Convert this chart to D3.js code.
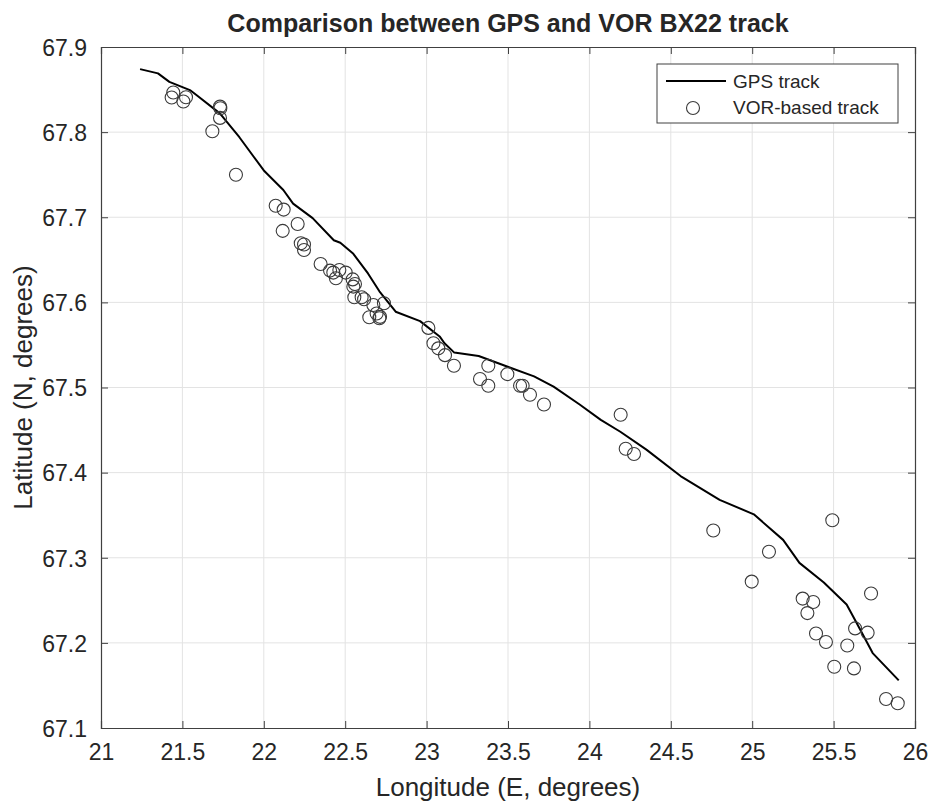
<!DOCTYPE html>
<html>
<head>
<meta charset="utf-8">
<script src="https://cdn.jsdelivr.net/npm/d3@7"></script>
<style>
  body { margin: 0; background: white; }
  text { font-family: 'Liberation Sans', Arial, Helvetica, sans-serif; fill: #262626; }
</style>
</head>
<body>
<svg id="chart" width="930" height="805"></svg>
<script>
//GPS track, longitude and latitude.
let gpsLon = [21.24, 21.35, 21.42, 21.55, 21.59, 21.73, 21.85, 22.00, 22.12, 22.18, 22.30, 22.43, 22.47,
  22.55, 22.64, 22.71, 22.81, 22.96, 23.08, 23.11, 23.17, 23.32, 23.49, 23.66, 23.78, 23.94, 24.07,
  24.19, 24.35, 24.56, 24.80, 25.01, 25.19, 25.29, 25.44, 25.58, 25.64, 25.74, 25.90];
let gpsLat = [67.874, 67.869, 67.859, 67.849, 67.843, 67.822, 67.794, 67.755, 67.732, 67.716, 67.699, 67.673, 67.670,
  67.657, 67.634, 67.613, 67.589, 67.578, 67.560, 67.552, 67.541, 67.537, 67.525, 67.513, 67.501, 67.480, 67.462,
  67.448, 67.427, 67.396, 67.368, 67.351, 67.321, 67.294, 67.271, 67.245, 67.224, 67.188, 67.156];

//VOR-based positions.
let vorLon = [21.444, 21.434, 21.506, 21.522, 21.731, 21.733, 21.731, 21.684, 21.829,
  22.073, 22.122, 22.116, 22.208, 22.227, 22.247, 22.247, 22.349, 22.407, 22.427, 22.443, 22.464,
  22.503, 22.546, 22.560, 22.550, 22.556, 22.601, 22.616, 22.673, 22.738, 22.648, 22.693, 22.714, 22.710,
  23.011, 23.042, 23.072, 23.113, 23.168, 23.379, 23.328, 23.379, 23.496, 23.574, 23.590, 23.635, 23.721,
  24.192, 24.223, 24.274, 24.761, 25.103, 24.997, 25.492, 25.310, 25.375, 25.339, 25.730, 25.392, 25.453,
  25.632, 25.709, 25.584, 25.504, 25.625, 25.822, 25.894];
let vorLat = [67.8465, 67.8406, 67.836, 67.841, 67.830, 67.828, 67.8167, 67.801, 67.750,
  67.7135, 67.709, 67.684, 67.692, 67.6694, 67.668, 67.6615, 67.645, 67.6373, 67.635, 67.6283, 67.638,
  67.635, 67.627, 67.6216, 67.6185, 67.606, 67.606, 67.6037, 67.597, 67.599, 67.5826, 67.587, 67.583, 67.5814,
  67.570, 67.552, 67.546, 67.538, 67.5255, 67.5255, 67.510, 67.502, 67.5157, 67.502, 67.502, 67.4914, 67.480,
  67.468, 67.428, 67.4219, 67.332, 67.307, 67.272, 67.344, 67.252, 67.248, 67.235, 67.258, 67.211, 67.201,
  67.217, 67.212, 67.197, 67.172, 67.170, 67.134, 67.129];

let xTicks = [21, 21.5, 22, 22.5, 23, 23.5, 24, 24.5, 25, 25.5, 26];
let yTicks = [67.1, 67.2, 67.3, 67.4, 67.5, 67.6, 67.7, 67.8, 67.9];

//Plot box edges in pixels.
let plotLeft = 101, plotRight = 915, plotTop = 47, plotBottom = 728;
let svg = d3.select('#chart');

let xScale = d3.scaleLinear().domain([21, 26]).range([plotLeft, plotRight]);
let yScale = d3.scaleLinear().domain([67.1, 67.9]).range([plotBottom, plotTop]);

//Grid lines first so everything else sits on top.
let grid = svg.append('g').attr('id', 'grid');
grid.selectAll('.gx').data(xTicks.slice(1, -1)).join('line')
  .attr('x1', d => xScale(d)).attr('x2', d => xScale(d))
  .attr('y1', plotTop).attr('y2', plotBottom)
  .attr('stroke', '#e3e3e3').attr('stroke-width', 1);
grid.selectAll('.gy').data(yTicks.slice(1, -1)).join('line')
  .attr('y1', d => yScale(d)).attr('y2', d => yScale(d))
  .attr('x1', plotLeft).attr('x2', plotRight)
  .attr('stroke', '#e3e3e3').attr('stroke-width', 1);

//Axes: ticks point inwards, labels outside.
let xAxis = d3.axisBottom(xScale).tickValues(xTicks).tickSize(-7).tickPadding(16).tickFormat(d3.format('~g'));
let yAxis = d3.axisLeft(yScale).tickValues(yTicks).tickSize(-7).tickPadding(14).tickFormat(d3.format('.1f'));
let xTop = d3.axisTop(xScale).tickValues(xTicks).tickSize(-7).tickFormat('');
let yRight = d3.axisRight(yScale).tickValues(yTicks).tickSize(-7).tickFormat('');

svg.append('g').attr('id', 'x-axis').attr('transform', 'translate(0,' + plotBottom + ')').call(xAxis);
svg.append('g').attr('id', 'y-axis').attr('transform', 'translate(' + plotLeft + ',0)').call(yAxis);
svg.append('g').attr('transform', 'translate(0,' + plotTop + ')').call(xTop);
svg.append('g').attr('transform', 'translate(' + plotRight + ',0)').call(yRight);

svg.selectAll('.domain').attr('stroke', '#404040').attr('stroke-width', 1.2);
svg.selectAll('.tick line').attr('stroke', '#404040');
svg.selectAll('.tick text').style('font-size', '23px').attr('fill', '#262626');
d3.select('#y-axis').selectAll('.tick text').attr('dy', '0.36em');

//GPS line
let lineFn = d3.line()
  .x(d => xScale(d[0]))
  .y(d => yScale(d[1]));
svg.append('path')
  .attr('d', lineFn(d3.zip(gpsLon, gpsLat)))
  .attr('fill', 'none')
  .attr('stroke', 'black')
  .attr('stroke-width', 2)
  .attr('stroke-linejoin', 'round');

//VOR circles
svg.append('g').attr('id', 'vor').selectAll('circle')
  .data(d3.zip(vorLon, vorLat))
  .join('circle')
  .attr('cx', d => xScale(d[0]))
  .attr('cy', d => yScale(d[1]))
  .attr('r', 6.5)
  .attr('fill', 'none')
  .attr('stroke', '#3a3a3a')
  .attr('stroke-width', 1.1);

//Title and axis labels.
svg.append('text').text('Comparison between GPS and VOR BX22 track')
  .attr('x', (plotLeft + plotRight) / 2).attr('y', 32)
  .attr('text-anchor', 'middle').style('font-size', '25px').style('font-weight', 'bold').attr('fill', 'black');
svg.append('text').text('Longitude (E, degrees)')
  .attr('x', (plotLeft + plotRight) / 2).attr('y', 796)
  .attr('text-anchor', 'middle').style('font-size', '26px');
svg.append('text').text('Latitude (N, degrees)')
  .attr('text-anchor', 'middle').style('font-size', '26px')
  .attr('transform', 'translate(32,' + ((plotTop + plotBottom) / 2) + ')rotate(-90)');

//Legend box
let legend = svg.append('g').attr('id', 'legend');
legend.append('rect')
  .attr('x', 657).attr('y', 64).attr('width', 241).attr('height', 59)
  .attr('fill', 'white').attr('stroke', '#404040').attr('stroke-width', 1);
legend.append('line')
  .attr('x1', 666).attr('x2', 726).attr('y1', 81).attr('y2', 81)
  .attr('stroke', 'black').attr('stroke-width', 2);
legend.append('circle')
  .attr('cx', 693).attr('cy', 108).attr('r', 6.5)
  .attr('fill', 'none').attr('stroke', '#3a3a3a').attr('stroke-width', 1.1);
legend.selectAll('.ltext').data(['GPS track', 'VOR-based track']).join('text')
  .attr('x', 733).attr('y', (d, i) => 88 + i * 26)
  .style('font-size', '19px')
  .text(d => d);
</script>
</body>
</html>
